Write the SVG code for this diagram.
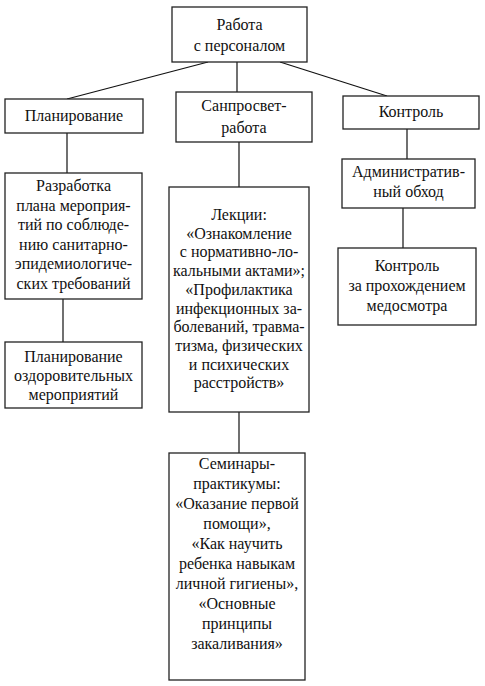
<svg xmlns="http://www.w3.org/2000/svg" width="485" height="686" viewBox="0 0 485 686" font-family="Liberation Serif, DejaVu Serif, serif">
<style>
rect{fill:#fff;stroke:#222;stroke-width:1.3}
text{font-family:Liberation Serif, DejaVu Serif, serif;font-size:16px;fill:#111;text-anchor:middle}
.c line{stroke:#111;stroke-width:1.2}
</style>
<rect x="0" y="0" width="485" height="686" style="fill:#fff;stroke:none"/>
<g class="c" id="connectors">
<line x1="208" y1="62" x2="67" y2="99"/>
<line x1="237" y1="62" x2="237" y2="92"/>
<line x1="280" y1="62" x2="387" y2="96"/>
<line x1="67" y1="133" x2="67" y2="173"/>
<line x1="63" y1="299" x2="63" y2="342"/>
<line x1="239" y1="142" x2="239" y2="187"/>
<line x1="239" y1="412" x2="239" y2="453"/>
<line x1="407" y1="129" x2="407" y2="159"/>
<line x1="403" y1="208" x2="403" y2="248"/>
</g>
<g id="root"><rect x="172" y="7" width="135" height="55"/>
<text x="239.5" y="30">Работа</text><text x="239.5" y="51">с персоналом</text></g>
<g id="plan"><rect x="5" y="99" width="138" height="34"/>
<text x="74" y="121">Планирование</text></g>
<g id="sanpros"><rect x="176" y="92" width="136" height="50"/>
<text x="244" y="111">Санпросвет-</text><text x="244" y="133">работа</text></g>
<g id="control"><rect x="343" y="96" width="136" height="33"/>
<text x="411" y="117">Контроль</text></g>
<g id="razrab"><rect x="5" y="173" width="137" height="126"/>
<text x="73.5" y="191">Разработка</text>
<text x="73.5" y="210.6">плана мероприя-</text>
<text x="73.5" y="230.2">тий по соблюде-</text>
<text x="73.5" y="249.8">нию санитарно-</text>
<text x="73.5" y="269.4">эпидемиологиче-</text>
<text x="73.5" y="289">ских требований</text></g>
<g id="ozdor"><rect x="5" y="342" width="137" height="66"/>
<text x="73.5" y="362">Планирование</text>
<text x="73.5" y="381">оздоровительных</text>
<text x="73.5" y="400">мероприятий</text></g>
<g id="lect"><rect x="169" y="187" width="140" height="225"/>
<text x="239" y="220">Лекции:</text>
<text x="239" y="238.7">«Ознакомление</text>
<text x="239" y="257.4">с нормативно-ло-</text>
<text x="239" y="276.1">кальными актами»;</text>
<text x="239" y="294.8">«Профилактика</text>
<text x="239" y="313.5">инфекционных за-</text>
<text x="239" y="332.2">болеваний, травма-</text>
<text x="239" y="350.9">тизма, физических</text>
<text x="239" y="369.6">и психических</text>
<text x="239" y="388.3">расстройств»</text></g>
<g id="semin"><rect x="169" y="453" width="136" height="227"/>
<text x="237" y="469">Семинары-</text>
<text x="237" y="489">практикумы:</text>
<text x="237" y="509">«Оказание первой</text>
<text x="237" y="529">помощи»,</text>
<text x="237" y="549">«Как научить</text>
<text x="237" y="569">ребенка навыкам</text>
<text x="237" y="589">личной гигиены»,</text>
<text x="237" y="609">«Основные</text>
<text x="237" y="629">принципы</text>
<text x="237" y="649">закаливания»</text></g>
<g id="admin"><rect x="342" y="159" width="133" height="49"/>
<text x="408.5" y="177">Административ-</text>
<text x="408.5" y="197">ный обход</text></g>
<g id="medos"><rect x="338" y="248" width="138" height="77"/>
<text x="407" y="271">Контроль</text>
<text x="407" y="291">за прохождением</text>
<text x="407" y="311">медосмотра</text></g>
</svg>
